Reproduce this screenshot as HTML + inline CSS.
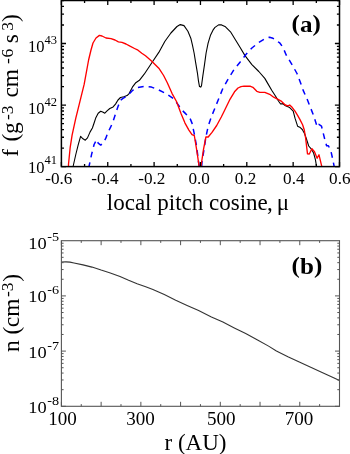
<!DOCTYPE html>
<html><head><meta charset="utf-8"><style>
html,body{margin:0;padding:0;background:#fff;}
svg{display:block;}
</style></head><body>
<svg width="350" height="454" viewBox="0 0 350 454">
<rect width="350" height="454" fill="#fff"/>
<defs><clipPath id="ca"><rect x="61.4" y="0.5" width="278.1" height="166.1"/></clipPath>
<clipPath id="cb"><rect x="61.4" y="240.7" width="278.1" height="165.6"/></clipPath></defs>
<g clip-path="url(#ca)" fill="none" stroke-linejoin="round" stroke-linecap="round">
<polyline points="73.0,168.0 73.3,165.5 75.8,154.5 78.2,144.8 80.6,136.4 83.0,138.8 85.3,140.2 87.5,137.9 90.0,132.1 92.4,128.0 94.1,123.0 95.7,118.1 98.2,113.2 100.7,111.2 103.2,112.3 104.8,113.2 107.3,110.7 109.8,108.5 113.1,106.9 115.5,104.1 118.0,100.0 120.5,97.5 123.8,96.7 127.1,95.6 129.1,93.6 132.4,87.2 135.8,82.7 139.4,80.3 144.2,74.2 151.5,63.3 158.8,52.4 164.8,41.5 170.9,33.0 177.0,26.5 180.3,24.6 184.0,25.6 187.9,31.2 190.8,38.2 192.4,44.8 194.1,53.0 195.7,62.9 197.4,72.8 198.5,81.1 199.5,86.6 200.7,87.1 201.5,85.8 202.8,76.1 204.5,64.6 206.1,53.0 208.1,43.1 210.6,34.9 213.1,29.9 215.0,27.4 218.6,24.9 221.6,24.9 225.5,26.8 230.5,31.8 235.4,39.7 240.0,47.2 245.0,55.6 251.9,64.6 258.8,71.5 264.8,78.4 267.7,83.4 271.7,90.3 275.6,96.2 278.6,101.2 280.6,104.0 282.6,103.6 285.5,105.8 289.7,107.6 293.2,111.2 295.0,118.2 297.6,126.2 300.3,127.6 302.3,129.5 304.5,133.5 306.3,138.5 308.7,146.0 311.4,149.2 313.6,153.0 315.4,159.7 316.6,166.7 316.9,168.0" stroke="#000" stroke-width="1.1"/>
<polyline points="89.0,168.0 89.1,166.0 91.6,154.4 94.1,144.5 96.6,139.6 98.2,143.2 100.7,145.1 103.2,142.9 105.6,138.7 108.1,132.1 110.6,127.2 113.1,121.4 115.5,114.0 118.0,106.6 120.5,100.2 123.0,98.4 126.3,96.5 128.2,95.0 132.7,90.3 137.0,87.6 144.2,86.4 151.5,87.1 158.8,90.0 166.1,93.6 173.3,98.5 178.1,104.6 181.9,110.0 185.8,113.9 189.7,117.5 192.0,123.1 194.3,133.9 196.6,146.3 198.9,164.8 199.4,168.0 201.6,168.0 202.0,161.7 204.3,147.8 205.9,137.0 208.2,126.2 211.3,117.0 215.1,107.7 218.2,100.0 222.7,88.8 228.4,78.5 234.0,69.6 240.0,62.2 245.9,54.5 251.9,48.0 258.9,42.4 264.0,39.3 269.5,37.2 273.0,38.3 276.5,40.6 280.0,43.2 283.0,47.5 286.2,55.0 291.7,64.1 297.0,73.5 300.8,83.5 303.4,90.9 306.9,98.6 310.3,107.2 313.7,115.8 317.2,126.9 318.9,124.4 321.5,126.1 323.2,133.0 324.9,139.8 326.6,145.8 328.4,145.8 330.9,151.0 332.6,158.7 334.0,165.6 334.3,168.0" stroke="#0000ff" stroke-width="1.5" stroke-dasharray="5.8,5" stroke-linecap="butt"/>
<polyline points="68.5,168.0 68.5,164.2 70.2,147.3 72.1,135.2 75.8,118.2 79.4,103.6 84.2,84.2 88.6,60.0 91.0,50.0 93.0,43.0 96.0,38.0 99.4,35.4 102.0,36.0 106.0,38.0 111.0,38.6 115.0,40.0 118.4,41.8 122.0,42.4 126.0,44.0 130.0,46.2 134.5,48.5 138.0,50.2 141.8,53.2 145.5,55.8 151.5,60.9 158.8,68.2 163.6,75.5 167.3,82.7 172.1,93.6 176.5,101.5 181.2,113.9 185.0,123.1 188.9,130.1 192.0,134.7 194.3,135.5 196.6,149.4 198.9,164.8 199.5,168.0 200.8,168.0 201.2,164.8 203.5,149.4 205.9,137.0 208.2,137.0 212.0,132.4 216.7,125.5 221.3,117.0 224.4,110.8 229.5,100.2 234.5,91.8 238.0,88.0 241.0,86.6 244.0,86.2 250.0,86.2 252.9,87.3 256.8,91.3 259.8,92.3 264.8,92.3 269.7,94.3 273.7,97.2 277.6,99.2 281.6,101.4 285.3,105.0 287.9,105.9 289.7,105.0 292.3,107.6 295.0,111.2 297.6,115.4 300.0,119.6 302.6,124.8 304.3,130.0 305.6,138.0 307.5,153.8 309.3,154.0 311.9,148.7 314.5,151.8 317.1,158.3 319.0,154.8 321.4,164.8 322.2,168.0" stroke="#ff0000" stroke-width="1.35"/>
</g>
<g clip-path="url(#cb)" fill="none"><polyline points="61.4,262.0 66.0,261.9 70.0,262.1 74.0,263.0 83.0,264.9 92.0,267.1 101.1,270.1 110.3,272.9 120.0,276.4 128.6,280.3 137.1,283.7 145.7,286.7 152.9,289.5 164.3,294.6 175.7,300.2 187.1,305.4 198.6,310.6 211.4,316.9 222.9,322.1 234.3,327.9 245.7,333.6 257.1,339.7 268.6,346.1 276.4,351.0 287.9,356.7 299.3,362.0 310.7,367.2 322.1,372.5 333.6,377.8 339.5,380.5" stroke="#333" stroke-width="1.1"/></g>
<path d="M61.40 166.60V162.00 M61.40 0.50V5.10 M84.57 166.60V164.00 M84.57 0.50V3.10 M107.75 166.60V162.00 M107.75 0.50V5.10 M130.93 166.60V164.00 M130.93 0.50V3.10 M154.10 166.60V162.00 M154.10 0.50V5.10 M177.28 166.60V164.00 M177.28 0.50V3.10 M200.45 166.60V162.00 M200.45 0.50V5.10 M223.63 166.60V164.00 M223.63 0.50V3.10 M246.80 166.60V162.00 M246.80 0.50V5.10 M269.98 166.60V164.00 M269.98 0.50V3.10 M293.15 166.60V162.00 M293.15 0.50V5.10 M316.33 166.60V164.00 M316.33 0.50V3.10 M339.50 166.60V162.00 M339.50 0.50V5.10 M61.40 166.60H66.00 M339.50 166.60H334.90 M61.40 148.07H64.00 M339.50 148.07H336.90 M61.40 137.24H64.00 M339.50 137.24H336.90 M61.40 129.55H64.00 M339.50 129.55H336.90 M61.40 123.58H64.00 M339.50 123.58H336.90 M61.40 118.71H64.00 M339.50 118.71H336.90 M61.40 114.59H64.00 M339.50 114.59H336.90 M61.40 111.02H64.00 M339.50 111.02H336.90 M61.40 107.87H64.00 M339.50 107.87H336.90 M61.40 105.06H66.00 M339.50 105.06H334.90 M61.40 86.53H64.00 M339.50 86.53H336.90 M61.40 75.70H64.00 M339.50 75.70H336.90 M61.40 68.01H64.00 M339.50 68.01H336.90 M61.40 62.04H64.00 M339.50 62.04H336.90 M61.40 57.17H64.00 M339.50 57.17H336.90 M61.40 53.05H64.00 M339.50 53.05H336.90 M61.40 49.48H64.00 M339.50 49.48H336.90 M61.40 46.33H64.00 M339.50 46.33H336.90 M61.40 43.52H66.00 M339.50 43.52H334.90 M61.40 24.99H64.00 M339.50 24.99H336.90 M61.40 14.15H64.00 M339.50 14.15H336.90 M61.40 6.46H64.00 M339.50 6.46H336.90 M61.40 0.50H64.00 M339.50 0.50H336.90" stroke="#000" stroke-width="1.3" fill="none"/>
<rect x="61.40" y="0.50" width="278.10" height="166.10" stroke="#000" stroke-width="1.5" fill="none"/>
<path d="M61.40 406.30V401.80 M61.40 240.70V245.20 M81.26 406.30V404.10 M81.26 240.70V242.90 M101.13 406.30V401.80 M101.13 240.70V245.20 M120.99 406.30V404.10 M120.99 240.70V242.90 M140.86 406.30V401.80 M140.86 240.70V245.20 M160.72 406.30V404.10 M160.72 240.70V242.90 M180.59 406.30V401.80 M180.59 240.70V245.20 M200.45 406.30V404.10 M200.45 240.70V242.90 M220.31 406.30V401.80 M220.31 240.70V245.20 M240.18 406.30V404.10 M240.18 240.70V242.90 M260.04 406.30V401.80 M260.04 240.70V245.20 M279.91 406.30V404.10 M279.91 240.70V242.90 M299.77 406.30V401.80 M299.77 240.70V245.20 M319.64 406.30V404.10 M319.64 240.70V242.90 M339.50 406.30V401.80 M339.50 240.70V245.20 M61.40 406.30H65.90 M339.50 406.30H335.00 M61.40 389.68H63.60 M339.50 389.68H337.30 M61.40 379.96H63.60 M339.50 379.96H337.30 M61.40 373.07H63.60 M339.50 373.07H337.30 M61.40 367.72H63.60 M339.50 367.72H337.30 M61.40 363.35H63.60 M339.50 363.35H337.30 M61.40 359.65H63.60 M339.50 359.65H337.30 M61.40 356.45H63.60 M339.50 356.45H337.30 M61.40 353.63H63.60 M339.50 353.63H337.30 M61.40 351.10H65.90 M339.50 351.10H335.00 M61.40 334.48H63.60 M339.50 334.48H337.30 M61.40 324.76H63.60 M339.50 324.76H337.30 M61.40 317.87H63.60 M339.50 317.87H337.30 M61.40 312.52H63.60 M339.50 312.52H337.30 M61.40 308.15H63.60 M339.50 308.15H337.30 M61.40 304.45H63.60 M339.50 304.45H337.30 M61.40 301.25H63.60 M339.50 301.25H337.30 M61.40 298.43H63.60 M339.50 298.43H337.30 M61.40 295.90H65.90 M339.50 295.90H335.00 M61.40 279.28H63.60 M339.50 279.28H337.30 M61.40 269.56H63.60 M339.50 269.56H337.30 M61.40 262.67H63.60 M339.50 262.67H337.30 M61.40 257.32H63.60 M339.50 257.32H337.30 M61.40 252.95H63.60 M339.50 252.95H337.30 M61.40 249.25H63.60 M339.50 249.25H337.30 M61.40 246.05H63.60 M339.50 246.05H337.30 M61.40 243.23H63.60 M339.50 243.23H337.30" stroke="#555" stroke-width="1" fill="none"/>
<rect x="61.40" y="240.70" width="278.10" height="165.60" stroke="#555" stroke-width="1.1" fill="none"/>
<g font-family="Liberation Serif, serif" fill="#000"><text x="45.2" y="184" font-size="16.5" transform="translate(45.70,0) scale(1.040,1) translate(-45.70,0)">-0.6</text><text x="91.4" y="184" font-size="16.5" transform="translate(91.90,0) scale(1.040,1) translate(-91.90,0)">-0.4</text><text x="138.3" y="184" font-size="16.5" transform="translate(138.80,0) scale(1.040,1) translate(-138.80,0)">-0.2</text><text x="188.4" y="184" font-size="16.5" transform="translate(188.90,0) scale(1.040,1) translate(-188.90,0)">0.0</text><text x="234.8" y="184" font-size="16.5" transform="translate(235.30,0) scale(1.040,1) translate(-235.30,0)">0.2</text><text x="283.1" y="184" font-size="16.5" transform="translate(283.60,0) scale(1.040,1) translate(-283.60,0)">0.4</text><text x="329.1" y="184" font-size="16.5" transform="translate(329.60,0) scale(1.040,1) translate(-329.60,0)">0.6</text><text x="28" y="52.4" font-size="16.5">10<tspan dy="-8.6" font-size="12.5">43</tspan></text><text x="28" y="114.3" font-size="16.5">10<tspan dy="-8.6" font-size="12.5">42</tspan></text><text x="28" y="173.0" font-size="16.5">10<tspan dy="-8.6" font-size="12.5">41</tspan></text><text x="106.8" y="210.2" font-size="23">local pitch cosine<tspan dx="-0.8">,</tspan> <tspan dx="-1.6">μ</tspan></text><text transform="translate(18.40,0) rotate(-90)"><tspan x="-156.65" y="0" font-size="23.5">f</tspan><tspan x="-141.40" y="0" font-size="23.5">(</tspan><tspan x="-134.10" y="0" font-size="23.5">g</tspan><tspan x="-120.10" y="-5.80" font-size="17.5">-</tspan><tspan x="-114.35" y="-5.80" font-size="17.5">3</tspan><tspan x="-97.45" y="0" font-size="23.5">c</tspan><tspan x="-87.30" y="0" font-size="23.5">m</tspan><tspan x="-64.00" y="-5.80" font-size="17.5">-</tspan><tspan x="-57.55" y="-5.80" font-size="17.5">6</tspan><tspan x="-43.30" y="0" font-size="23.5">s</tspan><tspan x="-30.85" y="-5.80" font-size="17.5">3</tspan><tspan x="-21.95" y="0" font-size="23.5">)</tspan></text><text x="291.6" y="31.9" font-size="23" font-weight="bold" transform="translate(291.60,0) scale(1.090,1) translate(-291.60,0)"><tspan dy="-1.3">(</tspan><tspan dy="1.3">a</tspan><tspan dy="-1.3">)</tspan></text><text x="48.3" y="424.7" font-size="18" transform="translate(49.80,0) scale(1.060,1) translate(-49.80,0)">100</text><text x="126.3" y="424.7" font-size="18" transform="translate(127.80,0) scale(1.060,1) translate(-127.80,0)">300</text><text x="207.0" y="424.7" font-size="18" transform="translate(208.50,0) scale(1.060,1) translate(-208.50,0)">500</text><text x="284.9" y="424.7" font-size="18" transform="translate(286.40,0) scale(1.060,1) translate(-286.40,0)">700</text><text x="28.3" y="249.3" font-size="17.5" transform="translate(28.30,0) scale(1.050,1) translate(-28.30,0)">10<tspan dx="0.6" dy="-8.2" font-size="13.5">-5</tspan></text><text x="28.3" y="301.8" font-size="17.5" transform="translate(28.30,0) scale(1.050,1) translate(-28.30,0)">10<tspan dx="0.6" dy="-8.2" font-size="13.5">-6</tspan></text><text x="28.3" y="357.8" font-size="17.5" transform="translate(28.30,0) scale(1.050,1) translate(-28.30,0)">10<tspan dx="0.6" dy="-8.2" font-size="13.5">-7</tspan></text><text x="28.3" y="413.1" font-size="17.5" transform="translate(28.30,0) scale(1.050,1) translate(-28.30,0)">10<tspan dx="0.6" dy="-8.2" font-size="13.5">-8</tspan></text><text x="164.5" y="449.7" font-size="23">r (AU)</text><text transform="translate(18.60,0) rotate(-90)"><tspan x="-352.00" y="0" font-size="23.5">n</tspan><tspan x="-334.50" y="0" font-size="23.5">(</tspan><tspan x="-327.15" y="0" font-size="23.5">cm</tspan><tspan x="-296.90" y="-5.60" font-size="17.5">-</tspan><tspan x="-291.15" y="-5.60" font-size="17.5">3</tspan><tspan x="-281.75" y="0" font-size="23.5">)</tspan></text><text x="291.6" y="274.1" font-size="23" font-weight="bold" transform="translate(291.60,0) scale(1.090,1) translate(-291.60,0)"><tspan dy="-1.3">(</tspan><tspan dy="1.3">b</tspan><tspan dy="-1.3">)</tspan></text></g>
</svg>
</body></html>
